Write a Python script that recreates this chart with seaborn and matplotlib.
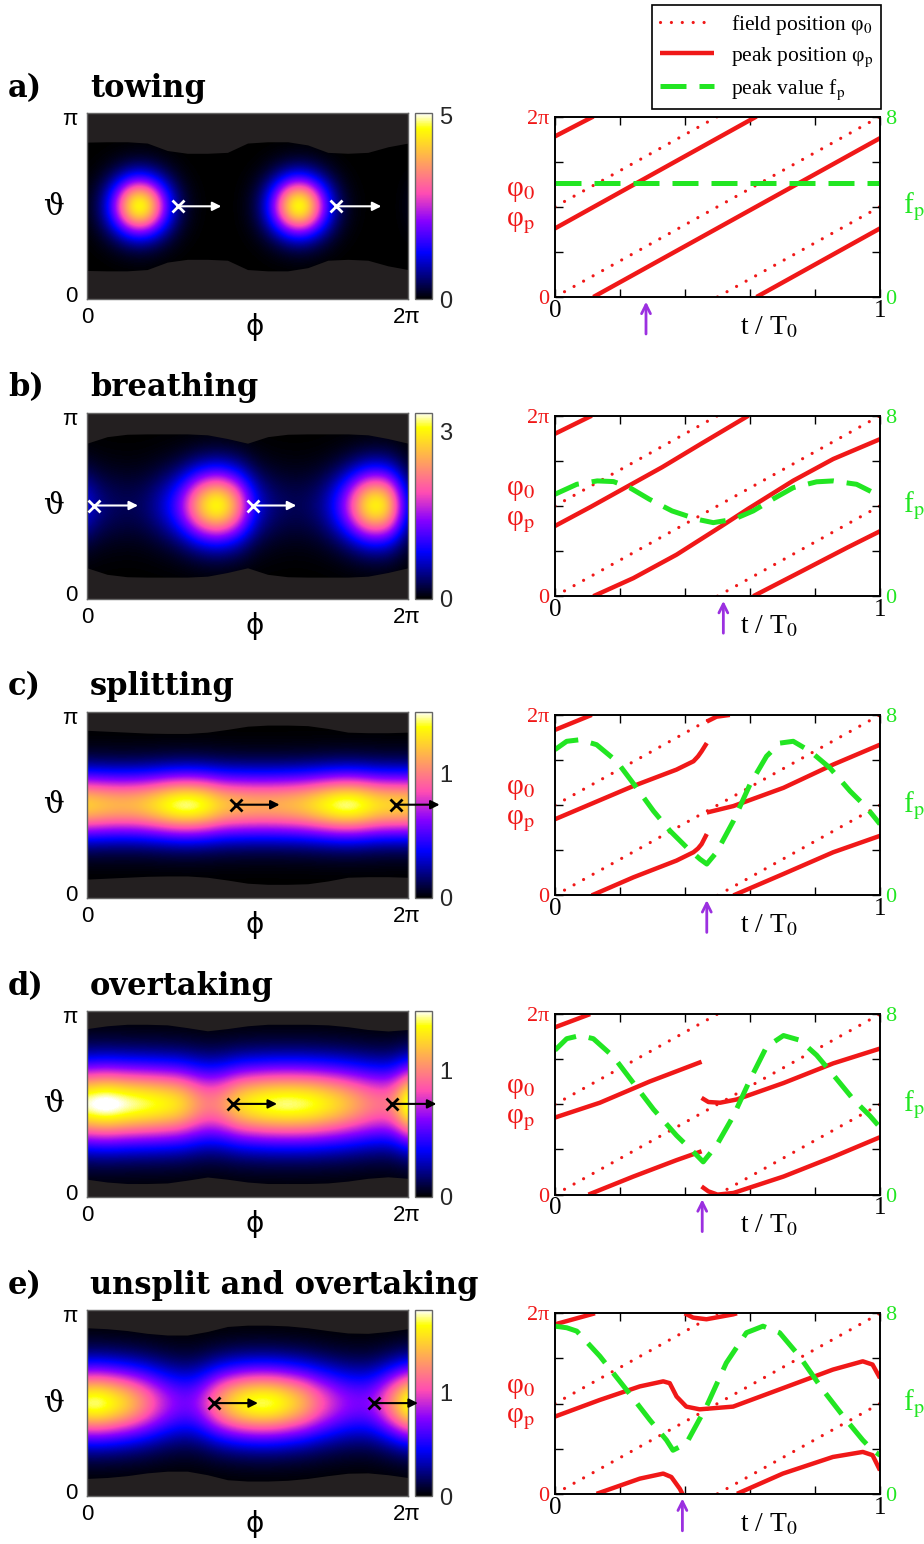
import numpy as np
import matplotlib
matplotlib.use("Agg")
import matplotlib.pyplot as plt
from matplotlib.lines import Line2D
import seaborn as sns

# ---------------------------------------------------------------- data
panel_letters = ["a)", "b)", "c)", "d)", "e)"]
panel_names = ["towing", "breathing", "splitting", "overtaking",
               "unsplit and overtaking"]

# colour scale of each heat map
cbar_max = [5.05, 3.35, 1.5, 1.47, 1.8]
cbar_major = [[0, 5], [0, 3], [0, 1], [0, 1], [0, 1]]
cbar_minor = [[1, 2, 3, 4], [1, 2], [0.2, 0.4, 0.6, 0.8, 1.2, 1.4],
              [0.2, 0.4, 0.6, 0.8, 1.2, 1.4], [0.5, 1.5]]

# field value along the equator, phi = 0 .. 2pi in steps of pi/16
amp_a = [0.12, 0.43, 1.2, 2.5, 4.05, 4.96, 4.63, 3.3, 1.8, 0.74, 0.23, 0.06, 0.01, 0, 0, 0.03,
         0.14, 0.49, 1.32, 2.69, 4.2, 4.99, 4.52, 3.12, 1.65, 0.66, 0.2, 0.05, 0.01, 0, 0, 0.02, 0.12]
amp_b = [0.75, 0.5, 0.36, 0.3, 0.28, 0.3, 0.38, 0.55, 0.8, 1.2, 1.8, 2.5, 3.0, 3.2, 2.9, 2.3,
         1.45, 0.8, 0.5, 0.36, 0.3, 0.28, 0.32, 0.42, 0.65, 1.05, 1.65, 2.4, 3.0, 3.15, 2.8, 1.8, 0.75]
amp_c = [1.28, 1.25, 1.22, 1.2, 1.2, 1.22, 1.27, 1.34, 1.42, 1.48, 1.5, 1.47, 1.4, 1.3, 1.23, 1.2,
         1.18, 1.17, 1.17, 1.18, 1.2, 1.23, 1.28, 1.35, 1.42, 1.48, 1.5, 1.47, 1.4, 1.33, 1.3, 1.29, 1.28]
amp_d = [1.48, 1.53, 1.55, 1.52, 1.48, 1.45, 1.42, 1.39, 1.35, 1.3, 1.2, 1.08, 1.0, 1.02, 1.12, 1.25,
         1.33, 1.38, 1.42, 1.44, 1.45, 1.44, 1.42, 1.38, 1.32, 1.26, 1.18, 1.1, 1.02, 0.97, 0.97, 1.15, 1.48]
amp_e = [1.75, 1.78, 1.72, 1.62, 1.5, 1.35, 1.18, 1.0, 0.85, 0.75, 0.72, 0.8, 1.0, 1.25, 1.45, 1.6,
         1.7, 1.75, 1.75, 1.7, 1.6, 1.48, 1.33, 1.15, 1.0, 0.87, 0.78, 0.74, 0.76, 0.9, 1.15, 1.45, 1.75]

# relative profile across theta = 0 .. pi in steps of pi/16
prof_a = [0, 0, 0.002, 0.012, 0.058, 0.2, 0.49, 0.84, 1, 0.84, 0.49, 0.2, 0.058, 0.012, 0.002, 0, 0]
prof_b = [0, 0.003, 0.016, 0.056, 0.157, 0.35, 0.63, 0.89, 1, 0.89, 0.63, 0.35, 0.157, 0.056, 0.016, 0.003, 0]
prof_c = [0, 0, 0.006, 0.028, 0.1, 0.28, 0.565, 0.87, 1, 0.87, 0.565, 0.28, 0.1, 0.028, 0.006, 0, 0]
prof_d = [0.003, 0.01, 0.035, 0.097, 0.226, 0.43, 0.69, 0.91, 1, 0.91, 0.69, 0.43, 0.226, 0.097, 0.035, 0.01, 0.003]
prof_e = [0.001, 0.005, 0.021, 0.069, 0.18, 0.38, 0.65, 0.9, 1, 0.9, 0.65, 0.38, 0.18, 0.069, 0.021, 0.005, 0.001]

# upper edge of the computed region (theta/pi), phi = 0 .. 2pi in steps of pi/8
edge_a = [0.845, 0.847, 0.847, 0.84, 0.8, 0.785, 0.785, 0.79, 0.84, 0.847, 0.847, 0.83, 0.79, 0.785, 0.79, 0.82, 0.84]
edge_b = [0.835, 0.87, 0.883, 0.885, 0.885, 0.885, 0.88, 0.86, 0.835, 0.87, 0.883, 0.885, 0.885, 0.885, 0.88, 0.86, 0.835]
edge_c = [0.9, 0.895, 0.89, 0.885, 0.883, 0.883, 0.89, 0.905, 0.922, 0.928, 0.928, 0.925, 0.91, 0.89, 0.887, 0.887, 0.89]
edge_d = [0.905, 0.92, 0.928, 0.928, 0.925, 0.91, 0.893, 0.905, 0.92, 0.928, 0.928, 0.928, 0.925, 0.915, 0.9, 0.892, 0.9]
edge_e = [0.905, 0.9, 0.89, 0.875, 0.866, 0.866, 0.885, 0.912, 0.919, 0.919, 0.915, 0.905, 0.89, 0.877, 0.875, 0.885, 0.9]

# field position phi_0 (units of pi), identical in all panels
field_t = [[0, 1], [0, 0.5], [0.5, 1]]
field_phi = [[0, 2], [1, 2], [0, 1]]

# peak position phi_p (units of pi): branches of (t, phi)
peak_a = [([0, 0.118], [1.78, 2.0]),
          ([0, 0.62], [0.76, 2.0]),
          ([0.118, 1.0], [0, 1.76]),
          ([0.62, 1.0], [0, 0.76])]
peak_b = [([0, 0.113], [1.8, 2.0]),
          ([0, 0.11, 0.22, 0.33, 0.45, 0.595], [0.778, 0.99, 1.21, 1.43, 1.69, 2.0]),
          ([0.118, 0.241, 0.374, 0.513, 0.595, 0.733, 0.856, 1.0], [0, 0.2, 0.46, 0.778, 0.97, 1.28, 1.52, 1.74]),
          ([0.61, 0.75, 0.9, 1.0], [0, 0.26, 0.54, 0.72])]
peak_c = [([0, 0.113], [1.834, 2.0]),
          ([0, 0.241, 0.374, 0.426, 0.44, 0.451, 0.467], [0.844, 1.212, 1.394, 1.486, 1.54, 1.596, 1.688]),
          ([0.467, 0.497, 0.538], [1.926, 1.98, 2.0]),
          ([0.467, 0.549, 0.703, 0.856, 1.0], [0.918, 0.99, 1.192, 1.45, 1.67]),
          ([0.113, 0.241, 0.374, 0.426, 0.44, 0.451, 0.467], [0, 0.2, 0.386, 0.478, 0.52, 0.568, 0.68]),
          ([0.549, 0.703, 0.856, 1.0], [0, 0.238, 0.478, 0.66])]
peak_d = [([0, 0.108], [1.854, 2.0]),
          ([0, 0.138, 0.292, 0.451], [0.854, 1.018, 1.254, 1.472]),
          ([0.451, 0.472, 0.508, 0.559, 0.703, 0.856, 1.0], [1.072, 1.026, 1.018, 1.054, 1.236, 1.454, 1.618]),
          ([0.103, 0.241, 0.374, 0.451], [0, 0.2, 0.382, 0.48]),
          ([0.451, 0.472, 0.5, 0.549, 0.703, 0.856, 1.0], [0.09, 0.036, 0.0, 0.018, 0.2, 0.418, 0.636])]
peak_e = [([0, 0.123], [1.878, 2.0]),
          ([0, 0.138, 0.261, 0.333, 0.353, 0.374, 0.404, 0.445, 0.548, 0.701, 0.855, 0.947, 0.977, 1.0],
           [0.856, 1.04, 1.19, 1.246, 1.226, 1.078, 0.966, 0.936, 0.966, 1.17, 1.376, 1.468, 1.432, 1.282]),
          ([0.399, 0.425, 0.466, 0.548, 0.56], [2.0, 1.952, 1.934, 1.988, 2.0]),
          ([0.128, 0.261, 0.333, 0.358, 0.384, 0.392], [0, 0.168, 0.224, 0.186, 0.056, 0]),
          ([0.56, 0.701, 0.855, 0.947, 0.977, 1.0], [0, 0.224, 0.408, 0.464, 0.428, 0.26])]

# peak value f_p
fp_t_a = [0, 1]
fp_a = [5.07, 5.07]
fp_t_b = [0, 0.067, 0.13, 0.18, 0.23, 0.29, 0.36, 0.437, 0.487, 0.55, 0.61, 0.67, 0.733, 0.805, 0.856, 0.928, 1.0]
fp_b = [4.52, 4.96, 5.11, 5.08, 4.81, 4.3, 3.78, 3.41, 3.26, 3.41, 3.78, 4.3, 4.81, 5.07, 5.11, 4.96, 4.44]
fp_t_c = [0, 0.036, 0.077, 0.128, 0.19, 0.251, 0.303, 0.354, 0.405, 0.446, 0.467, 0.497, 0.549, 0.6,
          0.651, 0.692, 0.733, 0.785, 0.846, 0.908, 0.959, 1.0]
fp_c = [6.46, 6.83, 6.9, 6.68, 5.94, 4.77, 3.74, 2.86, 2.13, 1.61, 1.39, 1.91, 3.3, 4.92,
        6.17, 6.75, 6.83, 6.39, 5.65, 4.62, 3.89, 3.16]
fp_t_d = [0, 0.036, 0.077, 0.118, 0.18, 0.241, 0.303, 0.374, 0.426, 0.456, 0.497, 0.549, 0.6, 0.651,
          0.703, 0.754, 0.805, 0.856, 0.918, 0.969, 1.0]
fp_d = [6.4, 6.91, 7.05, 6.91, 6.11, 4.95, 3.78, 2.62, 1.89, 1.45, 2.18, 3.49, 5.09, 6.55,
        7.05, 6.84, 6.18, 5.31, 4.22, 3.49, 2.98]
fp_t_e = [0, 0.036, 0.067, 0.138, 0.22, 0.292, 0.343, 0.363, 0.404, 0.466, 0.527, 0.589, 0.64, 0.691,
          0.752, 0.824, 0.896, 0.947, 0.977, 1.0]
fp_e = [7.43, 7.36, 7.21, 6.1, 4.61, 3.27, 2.38, 1.93, 2.23, 3.87, 5.8, 7.14, 7.43, 7.14,
        6.1, 4.61, 3.27, 2.38, 1.93, 1.71]

# time of the snapshot shown on the left (purple arrow)
snap_t = [0.28, 0.518, 0.467, 0.453, 0.392]
# field position marks (x) in the snapshot and where the arrows end (units of pi)
cross_start = [[0.567, 1.553], [0.044, 1.034], [0.926, 1.923], [0.91, 1.902], [0.789, 1.786]]
cross_end = [[0.837, 1.834], [0.318, 1.304], [1.2, 2.197], [1.184, 2.177], [1.065, 2.062]]
cross_color = ["white", "white", "black", "black", "black"]

amps = [amp_a, amp_b, amp_c, amp_d, amp_e]
profs = [prof_a, prof_b, prof_c, prof_d, prof_e]
edges = [edge_a, edge_b, edge_c, edge_d, edge_e]
peaks = [peak_a, peak_b, peak_c, peak_d, peak_e]
fp_ts = [fp_t_a, fp_t_b, fp_t_c, fp_t_d, fp_t_e]
fps = [fp_a, fp_b, fp_c, fp_d, fp_e]

# ---------------------------------------------------------------- style
sns.set_theme(style="white")
plt.rcParams["font.family"] = ["Liberation Sans", "DejaVu Sans"]
plt.rcParams["mathtext.fontset"] = "stix"
plt.rcParams["text.color"] = "black"

RED = "#f01818"
GREEN = "#22e622"
PURPLE = "#9b30e0"
MASK = "#231f20"
SERIF = "Liberation Serif"
SANS = "Liberation Sans"

W, H = 924, 1544
ROW = 299.2


def rect(x, y, w, h):
    return [x / W, 1 - (y + h) / H, w / W, h / H]


dotted = dict(color=RED, lw=2.3, linestyle=(0, (0.01, 3.4)), dash_capstyle="round")
solid = dict(color=RED, lw=3.2, solid_capstyle="butt")
dashed = dict(color=GREEN, lw=3.6, linestyle=(0, (5.2, 2.6)), dash_capstyle="butt")

fig = plt.figure(figsize=(W / 100, H / 100), dpi=100)

for i in range(5):
    y_top = 113.3 + ROW * i

    # title
    fig.text(8 / W, 1 - (97 + ROW * i) / H, panel_letters[i], fontfamily="DejaVu Serif",
             fontweight="bold", fontsize=22, va="baseline", color="black")
    fig.text(90 / W, 1 - (97 + ROW * i) / H, panel_names[i], fontfamily="DejaVu Serif",
             fontweight="bold", fontsize=22, va="baseline", color="black")

    # ---- colour bar (added first so the heat map arrows can run over it)
    cax = fig.add_axes(rect(415, y_top, 17, 186))

    # ---- heat map
    ax = fig.add_axes(rect(87, y_top, 321, 186))
    ax.set_zorder(4)
    field = np.outer(profs[i], amps[i])
    dphi, dth = 2 / 32, 1 / 16
    im = ax.imshow(field, origin="lower", aspect="auto", cmap="gnuplot2",
                   vmin=0, vmax=cbar_max[i], interpolation="bicubic",
                   extent=[-dphi / 2, 2 + dphi / 2, -dth / 2, 1 + dth / 2])
    edge_phi = np.linspace(0, 2, len(edges[i]))
    ax.fill_between(edge_phi, edges[i], 1, color=MASK, lw=0)
    ax.fill_between(edge_phi, 0, 1 - np.array(edges[i]), color=MASK, lw=0)
    ax.set_xlim(0, 2)
    ax.set_ylim(0, 1)
    ax.set_xticks([])
    ax.set_yticks([])
    for s in ax.spines.values():
        s.set_color("#666666")
        s.set_linewidth(1.0)

    c = cross_color[i]
    for x0, x1 in zip(cross_start[i], cross_end[i]):
        ax.plot([x0], [0.5], marker="x", ms=8, mew=2, color=c, clip_on=False, zorder=5)
        ax.annotate("", xy=(x1, 0.5), xytext=(x0, 0.5), annotation_clip=False,
                    arrowprops=dict(arrowstyle="-|>", color=c, lw=1.5, mutation_scale=13,
                                    shrinkA=0, shrinkB=0), zorder=5)

    ax.text(-0.031, 0.964, "π", transform=ax.transAxes, ha="right", va="center",
            fontsize=16, fontfamily=SANS)
    ax.text(-0.031, 0.014, "0", transform=ax.transAxes, ha="right", va="center",
            fontsize=16, fontfamily=SANS)
    ax.text(0.0, -0.10, "0", transform=ax.transAxes, ha="center", va="center",
            fontsize=16, fontfamily=SANS)
    ax.text(0.997, -0.10, "2π", transform=ax.transAxes, ha="center", va="center",
            fontsize=16, fontfamily=SANS)
    ax.text(0.523, -0.148, "ϕ", transform=ax.transAxes, ha="center", va="center",
            fontsize=20, fontfamily="DejaVu Sans")
    ax.text(-0.105, 0.497, "ϑ", transform=ax.transAxes, ha="center", va="center",
            fontsize=21, fontfamily="DejaVu Serif")

    cb = fig.colorbar(im, cax=cax)
    cb.set_ticks(cbar_major[i])
    cb.set_ticklabels([str(v) for v in cbar_major[i]])
    cax.set_yticks(cbar_minor[i], minor=True)
    cax.tick_params(which="major", length=0, pad=5, labelsize=17)
    cax.tick_params(which="minor", direction="in", length=4, width=1, color="#333333",
                    right=True, left=False)
    for lab in cax.get_yticklabels():
        lab.set_fontfamily(SANS)
    cb.outline.set_edgecolor("#666666")
    cb.outline.set_linewidth(1.0)

    # ---- time traces
    axr = fig.add_axes(rect(555, 116.5 + ROW * i, 325, 180.5))
    for ts, ps in zip(field_t, field_phi):
        sns.lineplot(x=ts, y=ps, ax=axr, sort=False, estimator=None, **dotted)
    for ts, ps in peaks[i]:
        sns.lineplot(x=ts, y=ps, ax=axr, sort=False, estimator=None, **solid)
    axr.set_xlim(0, 1)
    axr.set_ylim(0, 2)
    axr.set_xticks([0, 0.2, 0.4, 0.6, 0.8, 1.0], labels=["0", "", "", "", "", "1"])
    axr.set_yticks([0, 0.5, 1, 1.5, 2], labels=["0", "", "", "", "2π"])
    axr.tick_params(axis="x", direction="in", length=6, width=1, color="black",
                    top=True, bottom=True, pad=2, labelsize=18, labelcolor="black")
    axr.tick_params(axis="y", direction="in", length=6, width=1, color="black",
                    left=True, right=False, pad=4, labelsize=16, labelcolor=RED)
    for lab in axr.get_xticklabels() + axr.get_yticklabels():
        lab.set_fontfamily(SERIF)
    axr.set_xlabel("")
    axr.set_ylabel("")

    ax2 = axr.twinx()
    sns.lineplot(x=fp_ts[i], y=fps[i], ax=ax2, sort=False, estimator=None, **dashed)
    ax2.set_ylim(0, 8)
    ax2.set_xlim(0, 1)
    ax2.set_yticks([0, 2, 4, 6, 8], labels=["0", "", "", "", "8"])
    ax2.tick_params(axis="y", direction="in", length=6, width=1, color="black",
                    right=True, pad=4, labelsize=16, labelcolor=GREEN)
    for lab in ax2.get_yticklabels():
        lab.set_fontfamily(SERIF)
    ax2.set_ylabel("")
    for a in (axr, ax2):
        for s in a.spines.values():
            s.set_color("black")
            s.set_linewidth(1.2)

    axr.text(-0.105, 0.5, "φ$_0$\nφ$_\\mathrm{p}$", transform=axr.transAxes,
             ha="center", va="center", color=RED, fontsize=21, linespacing=1.1,
             fontfamily=SERIF)
    axr.text(1.105, 0.5, "f$_\\mathrm{p}$", transform=axr.transAxes,
             ha="center", va="center", color=GREEN, fontsize=21, fontfamily=SERIF)
    axr.text(0.66, -0.17, "t / T$_0$", transform=axr.transAxes,
             ha="center", va="center", color="black", fontsize=20, fontfamily=SERIF)

    axr.annotate("", xy=(snap_t[i], -0.026), xytext=(snap_t[i], -0.205),
                 xycoords=("data", "axes fraction"), textcoords=("data", "axes fraction"),
                 annotation_clip=False,
                 arrowprops=dict(arrowstyle="->", color=PURPLE, lw=2.0, mutation_scale=16,
                                 shrinkA=0, shrinkB=0))

# ---- legend
handles = [Line2D([], [], **dotted), Line2D([], [], **solid), Line2D([], [], **dashed)]
labels = ["field position φ$_0$", "peak position φ$_\\mathrm{p}$", "peak value f$_\\mathrm{p}$"]
leg = fig.legend(handles, labels, loc="upper right", bbox_to_anchor=(881 / W, 1 - 5 / H),
                 frameon=True, fancybox=False, framealpha=1, edgecolor="black",
                 prop={"family": SERIF, "size": 15.5}, handlelength=2.5, handletextpad=0.8,
                 borderpad=0.35, labelspacing=0.4, borderaxespad=0)
leg.get_frame().set_linewidth(1.2)

fig.savefig("out.png", dpi=100)
